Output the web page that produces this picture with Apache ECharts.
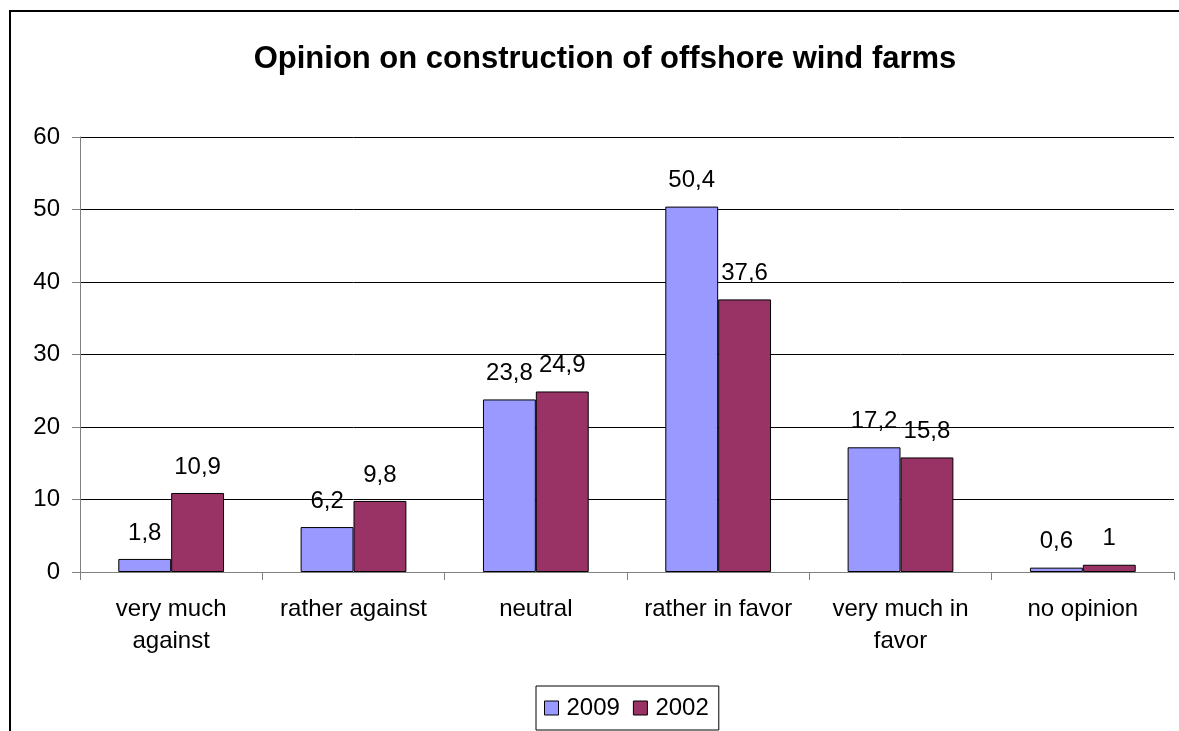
<!DOCTYPE html>
<html>
<head>
<meta charset="utf-8">
<script src="https://cdn.jsdelivr.net/npm/echarts@6/dist/echarts.min.js"></script>
<style>html,body{margin:0;padding:0;background:#fff}#c{width:1179px;height:731px}</style>
</head>
<body>
<div id="c"></div>
<script>
const categories = ['very much\nagainst', 'rather against', 'neutral', 'rather in favor', 'very much in\nfavor', 'no opinion'];
const values2009 = [1.8, 6.2, 23.8, 50.4, 17.2, 0.6];
const values2002 = [10.9, 9.8, 24.9, 37.6, 15.8, 1];
const FONT = '"Liberation Sans", Arial, sans-serif';
const fmt = p => String(p.value).replace('.', ',');
const chart = echarts.init(document.getElementById('c'), null, {renderer: 'canvas'});
chart.setOption({
  animation: false,
  backgroundColor: '#fff',
  textStyle: {fontFamily: FONT, color: '#000'},
  title: {
    text: 'Opinion on construction of offshore wind farms',
    left: 600, top: 39, textAlign: 'center',
    textStyle: {fontFamily: FONT, fontSize: 31, fontWeight: 'bold', color: '#000'}
  },
  graphic: [{
    type: 'rect', shape: {x: 10, y: 11, width: 1300, height: 900},
    style: {fill: 'none', stroke: '#000', lineWidth: 2}, silent: true, z: 100
  }],
  legend: {
    data: ['2009', '2002'], left: 536, top: 686,
    itemWidth: 14, itemHeight: 14, itemGap: 13,
    borderColor: '#000', borderWidth: 1, padding: [10, 10, 10, 8],
    textStyle: {fontFamily: FONT, fontSize: 24, color: '#000', padding: [0, 0, 0, 3]},
    icon: 'rect',
    itemStyle: {borderColor: '#000', borderWidth: 1}
  },
  grid: {left: 80, right: 5, top: 137, bottom: 159},
  xAxis: {
    type: 'category', data: categories,
    axisLine: {lineStyle: {color: '#808080', width: 1}},
    axisTick: {show: true, length: 8, lineStyle: {color: '#808080'}},
    axisLabel: {interval: 0, fontSize: 24, color: '#000', fontFamily: FONT, margin: 21, lineHeight: 32}
  },
  yAxis: {
    type: 'value', min: 0, max: 60, interval: 10,
    axisLine: {show: true, lineStyle: {color: '#808080'}},
    axisTick: {show: true, length: 8, lineStyle: {color: '#808080'}},
    axisLabel: {fontSize: 24, color: '#000', fontFamily: FONT, margin: 20},
    splitLine: {lineStyle: {color: '#000', width: 1}}
  },
  series: [
    {name: '2009', type: 'bar', data: values2009, barGap: '0%', barCategoryGap: '42%',
     itemStyle: {color: '#9999FF', borderColor: '#000', borderWidth: 1},
     label: {show: true, position: 'top', distance: 14, formatter: fmt, fontSize: 24, color: '#000', fontFamily: FONT}},
    {name: '2002', type: 'bar', data: values2002,
     itemStyle: {color: '#993366', borderColor: '#000', borderWidth: 1},
     label: {show: true, position: 'top', distance: 14, formatter: fmt, fontSize: 24, color: '#000', fontFamily: FONT}}
  ]
});
</script>
</body>
</html>
